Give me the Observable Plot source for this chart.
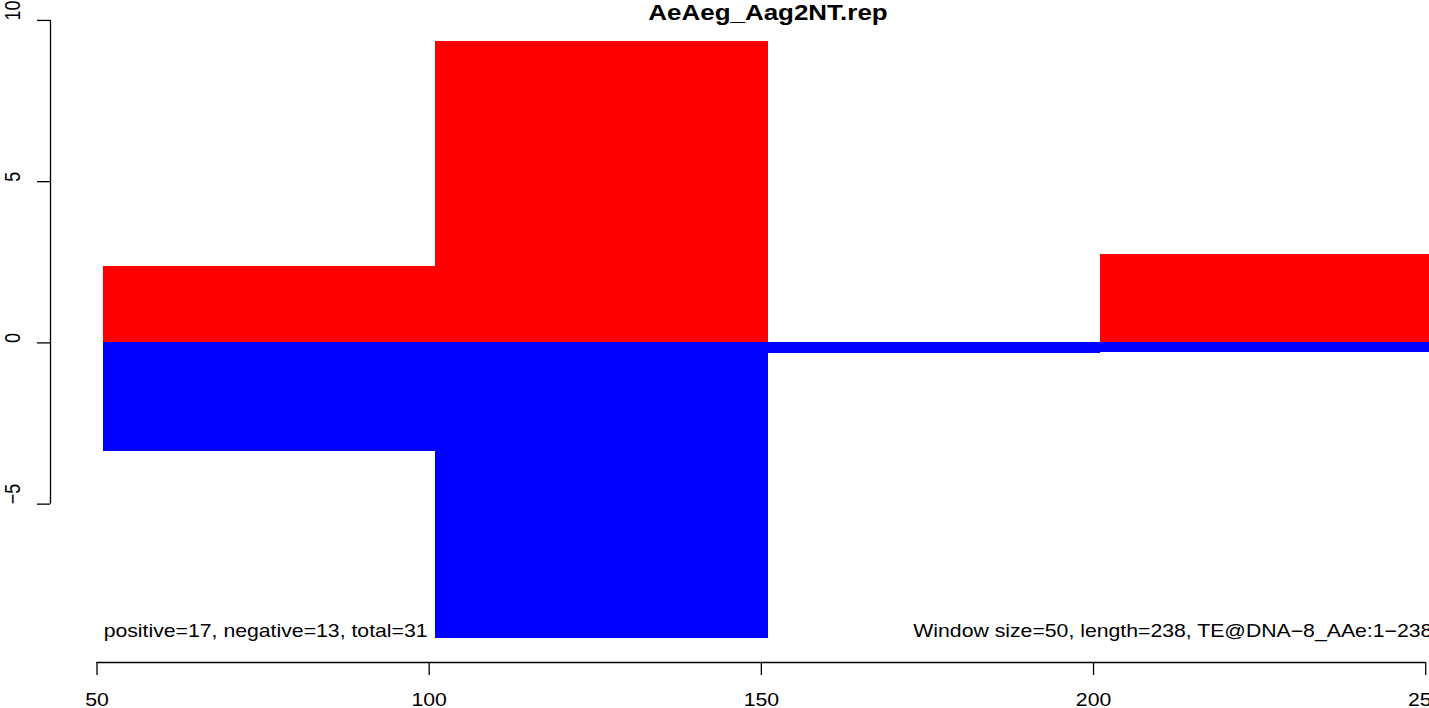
<!DOCTYPE html>
<html>
<head>
<meta charset="utf-8">
<script src="https://cdn.jsdelivr.net/npm/d3@7"></script>
<script src="https://cdn.jsdelivr.net/npm/@observablehq/plot@0.6"></script>
<style>
  html, body { margin: 0; padding: 0; background: #fff; overflow: hidden; }
  #chart svg { display: block; }
</style>
</head>
<body>
<div id="chart"></div>
<script>
// ---- data ----
const title = "AeAeg_Aag2NT.rep";
const binStart = [51, 101, 151, 201];
const binEnd = [101, 151, 201, 251];
const positive = [2.38, 9.35, 0, 2.74];
const negative = [-3.37, -9.17, -0.32, -0.30];
const xTicks = [50, 100, 150, 200, 250];
const yTicks = [-5, 0, 5, 10];
const leftNote = "positive=17, negative=13, total=31";
const rightNote = "Window size=50, length=238, TE@DNA\u22128_AAe:1\u2212238";

// ---- derived ----
const bins = binStart.map((s, i) => ({start: s, end: binEnd[i], pos: positive[i], neg: negative[i]}));
function rExtend([a, b]) { const p = (b - a) * 0.04; return [a - p, b + p]; }
const xDomain = rExtend([d3.min(binStart), d3.max(binEnd)]);
const yDomain = rExtend([d3.min(negative), d3.max(positive)]);

const font = "'Liberation Sans', Arial, Helvetica, sans-serif";

const chart = Plot.plot({
  width: 1429,
  height: 708,
  marginLeft: 50,
  marginRight: 0,
  marginTop: 17,
  marginBottom: 46,
  style: {fontFamily: font, fontSize: "18px", background: "#fff", overflow: "visible"},
  x: {domain: xDomain, range: [50, 1485]},
  y: {domain: yDomain},
  marks: [
    Plot.rectY(bins, {x1: "start", x2: "end", y1: 0, y2: "pos", fill: "#ff0000", shapeRendering: "crispEdges"}),
    Plot.rectY(bins, {x1: "start", x2: "end", y1: 0, y2: "neg", fill: "#0000ff", shapeRendering: "crispEdges"}),
    // x axis
    Plot.ruleY([yDomain[0]], {x1: xTicks[0], x2: xTicks[xTicks.length - 1], stroke: "#000", strokeWidth: 1.3}),
    Plot.axisX(xTicks, {tickSize: 13, tickPadding: 18, fontSize: 18, label: null, stroke: "#000", strokeWidth: 1.3, color: "#000"}),
    // y axis
    Plot.ruleX([xDomain[0]], {y1: yTicks[0], y2: yTicks[yTicks.length - 1], stroke: "#000", strokeWidth: 1.3}),
    Plot.axisY(yTicks, {tickSize: 13, tickFormat: () => "", label: null, stroke: "#000", strokeWidth: 1.3}),
    Plot.text(yTicks, {y: d => d, text: d => d3.format("d")(d).replace("-", "\u2212"), frameAnchor: "left", dx: -37, rotate: -90, fontSize: 18, fill: "#000"}),
    // title
    Plot.text([title], {text: d => d, frameAnchor: "top", dx: 28, dy: -13, fontSize: 22, fontWeight: "bold", fill: "#000"}),
    // notes
    Plot.text([leftNote], {text: d => d, x: binStart[0], frameAnchor: "bottom", textAnchor: "start", dy: -26, fontSize: 18, fill: "#000"}),
    Plot.text([rightNote], {text: d => d, x: binEnd[binEnd.length - 1], frameAnchor: "bottom", textAnchor: "end", dy: -26, fontSize: 18, fill: "#000"})
  ]
});

// horizontal stretch of glyphs to mimic the reference raster
const sx = 1.18;
chart.querySelectorAll("text").forEach(el => {
  const t = el.getAttribute("transform");
  if (t) {
    if (t.includes("rotate")) el.setAttribute("transform", t.replace("rotate", `scale(${sx},1) rotate`));
    else el.setAttribute("transform", `${t} scale(${sx},1)`);
  } else {
    const x = +(el.getAttribute("x") || 0);
    el.setAttribute("transform", `translate(${x},0) scale(${sx},1) translate(${-x},0)`);
  }
});

document.getElementById("chart").appendChild(chart);
</script>
</body>
</html>
